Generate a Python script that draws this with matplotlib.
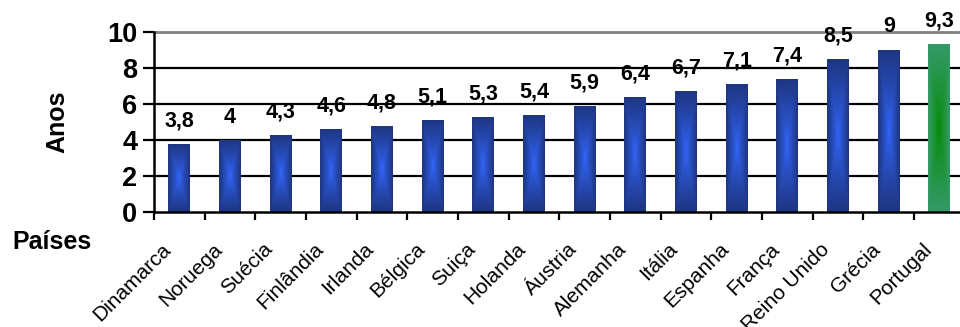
import numpy as np
import matplotlib
matplotlib.use("Agg")
import matplotlib.pyplot as plt
from matplotlib.colors import to_rgb

countries = ["Dinamarca", "Noruega", "Suécia", "Finlândia", "Irlanda", "Bélgica",
             "Suiça", "Holanda", "Áustria", "Alemanha", "Itália", "Espanha",
             "França", "Reino Unido", "Grécia", "Portugal"]
values = [3.8, 4, 4.3, 4.6, 4.8, 5.1, 5.3, 5.4, 5.9, 6.4, 6.7, 7.1, 7.4, 8.5, 9, 9.3]
value_labels = ["3,8", "4", "4,3", "4,6", "4,8", "5,1", "5,3", "5,4", "5,9", "6,4",
                "6,7", "7,1", "7,4", "8,5", "9", "9,3"]
yticks = [0, 2, 4, 6, 8, 10]

plt.rcParams['font.family'] = ['Liberation Sans', 'DejaVu Sans']

W, H = 960, 327
fig = plt.figure(figsize=(W / 100, H / 100), dpi=100)
left, right = 154 / W, 964.7 / W
bottom, top = 1 - 212.3 / H, 1 - 31.7 / H
ax = fig.add_axes([left, bottom, right - left, top - bottom])

x = np.arange(len(countries))
bw = 0.43
bars = ax.bar(x, values, width=bw, color='none', edgecolor='none', zorder=3)

ax.set_xlim(-0.5, len(countries) - 0.5)
ax.set_ylim(0, 10)


def grad_img(c_center, c_edge):
    nx, ny = 60, 300
    xs = np.linspace(-1, 1, nx)
    ys = np.linspace(-1, 1, ny)
    X, Y = np.meshgrid(xs, ys)
    t = np.maximum(np.abs(X), np.abs(Y))
    t = np.clip(t, 0, 1) ** 0.8
    cc = np.array(to_rgb(c_center))
    ce = np.array(to_rgb(c_edge))
    return cc[None, None, :] * (1 - t[..., None]) + ce[None, None, :] * t[..., None]


for i, b in enumerate(bars):
    if countries[i] == "Portugal":
        img = grad_img("#008a00", "#359a68")
    else:
        img = grad_img("#3368ff", "#1e3580")
    x0, y0 = b.get_x(), b.get_y()
    im = ax.imshow(img, extent=[x0, x0 + b.get_width(), y0, y0 + b.get_height()],
                   aspect='auto', zorder=3, interpolation='bilinear', origin='lower')
    im.set_clip_path(b)

# gridlines
for yv in yticks[1:]:
    col = '#808080' if yv == 10 else 'black'
    ax.axhline(yv, color=col, lw=2.0 if yv == 10 else 1.6, zorder=2, clip_on=False)

for sp in ['top', 'right']:
    ax.spines[sp].set_visible(False)
for sp in ['left', 'bottom']:
    ax.spines[sp].set_linewidth(1.8)
    ax.spines[sp].set_zorder(4)

ax.set_yticks(yticks)
ax.set_yticklabels([str(v) for v in yticks], fontsize=19.5, fontweight='bold')
ax.tick_params(axis='y', length=8, width=1.6, pad=4)

ax.set_xticks(np.arange(len(countries) + 1) - 0.5)
ax.set_xticklabels([])
ax.tick_params(axis='x', length=6, width=1.6, direction='out')

for i, c in enumerate(countries):
    ax.annotate(c, xy=(x[i], 0), xycoords='data', xytext=(-8, -24.5),
                textcoords='offset points', rotation=45, rotation_mode='anchor',
                ha='right', va='center', fontsize=15, annotation_clip=False)

for i, v in enumerate(values):
    ax.annotate(value_labels[i], xy=(x[i], v), xytext=(0, 16.5), textcoords='offset points',
                ha='center', va='center', fontsize=15.5, fontweight='bold',
                annotation_clip=False, zorder=5)

fig.text(57 / W, 1 - 122 / H, "Anos", rotation=90, ha='center', va='center',
         fontsize=18, fontweight='bold')
fig.text(12 / W, 1 - 242 / H, "Países", ha='left', va='center',
         fontsize=18, fontweight='bold')

fig.savefig("out.png", dpi=100)
